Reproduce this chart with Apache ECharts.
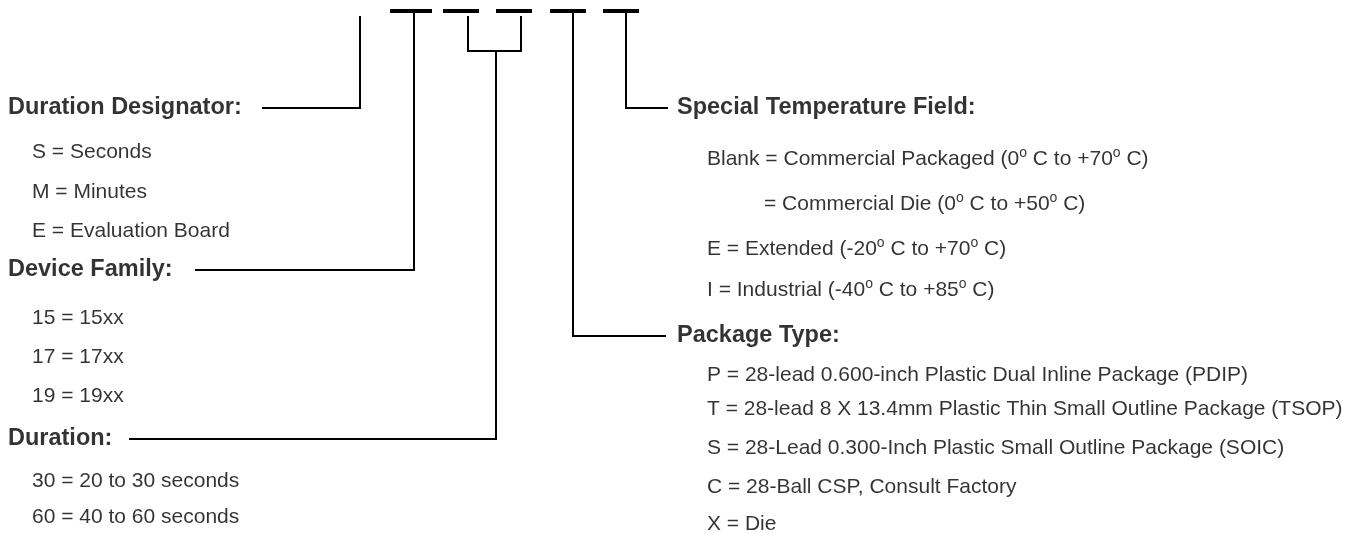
<!DOCTYPE html>
<html>
<head>
<meta charset="utf-8">
<script src="https://cdn.jsdelivr.net/npm/echarts@6/dist/echarts.min.js"></script>
<style>
  html, body { margin: 0; padding: 0; background: #fff; }
  #chart { width: 1357px; height: 533px; }
</style>
</head>
<body>
<div id="chart"></div>
<script>
// part number slots drawn as thick bars at the top
const slotBars = [[390, 432], [443, 479], [496, 532], [550, 586], [603, 639]]
const slotY = 11

// section headers: [x, y, text]
const headers = [
    [8, 108, 'Duration Designator:'],
    [8, 270, 'Device Family:'],
    [8, 439, 'Duration:'],
    [677, 108, 'Special Temperature Field:'],
    [677, 336, 'Package Type:']
]

// option lines under each header: [x, y, text]  ({s|o} = superscript o)
const items = [
    [32, 152, 'S = Seconds'],
    [32, 192, 'M = Minutes'],
    [32, 231, 'E = Evaluation Board'],
    [32, 318, '15 = 15xx'],
    [32, 357, '17 = 17xx'],
    [32, 396, '19 = 19xx'],
    [32, 481, '30 = 20 to 30 seconds'],
    [32, 517, '60 = 40 to 60 seconds'],
    [707, 159, 'Blank = Commercial Packaged (0{s|o} C to +70{s|o} C)'],
    [764, 204, '= Commercial Die (0{s|o} C to +50{s|o} C)'],
    [707, 249, 'E = Extended (-20{s|o} C to +70{s|o} C)'],
    [707, 290, 'I = Industrial (-40{s|o} C to +85{s|o} C)'],
    [707, 375, 'P = 28-lead 0.600-inch Plastic Dual Inline Package (PDIP)'],
    [707, 409, 'T = 28-lead 8 X 13.4mm Plastic Thin Small Outline Package (TSOP)'],
    [707, 448, 'S = 28-Lead 0.300-Inch Plastic Small Outline Package (SOIC)'],
    [707, 487, 'C = 28-Ball CSP, Consult Factory'],
    [707, 524, 'X = Die']
]

// leader lines from slots to headers
const leaders = [
    [[262, 108], [360, 108], [360, 16]],
    [[195, 270], [414, 270], [414, slotY]],
    [[468, 16], [468, 51], [521, 51], [521, 16]],
    [[129, 439], [496, 439], [496, 51]],
    [[666, 336], [573, 336], [573, slotY]],
    [[668, 108], [626, 108], [626, slotY]]
]

const chart = echarts.init(document.getElementById('chart'), null, { renderer: 'canvas' })

const textSeries = (data, bold, size) => ({
    type: 'scatter',
    data: data,
    symbolSize: 0,
    silent: true,
    label: {
        show: true,
        position: 'right',
        distance: 0,
        formatter: p => p.data[2],
        color: '#000',
        fontFamily: 'Liberation Sans',
        fontWeight: bold ? 'bold' : 'normal',
        fontSize: size,
        lineHeight: 26,
        rich: {
            s: { fontSize: 14, lineHeight: 14, verticalAlign: 'top', color: '#000', fontFamily: 'Liberation Sans' }
        }
    }
})

chart.setOption({
    animation: false,
    grid: { left: 0, right: 0, top: 0, bottom: 0 },
    xAxis: { type: 'value', min: 0, max: 1357, show: false },
    yAxis: { type: 'value', min: 0, max: 533, inverse: true, show: false },
    series: [
        {
            type: 'lines',
            coordinateSystem: 'cartesian2d',
            polyline: true,
            silent: true,
            lineStyle: { color: '#000', width: 4, opacity: 1 },
            data: slotBars.map(b => ({ coords: [[b[0], slotY], [b[1], slotY]] }))
        },
        {
            type: 'lines',
            coordinateSystem: 'cartesian2d',
            polyline: true,
            silent: true,
            lineStyle: { color: '#000', width: 2, opacity: 1, join: 'miter' },
            data: leaders.map(c => ({ coords: c }))
        },
        textSeries(headers, true, 23.5),
        textSeries(items, false, 21)
    ]
})
</script>
</body>
</html>
